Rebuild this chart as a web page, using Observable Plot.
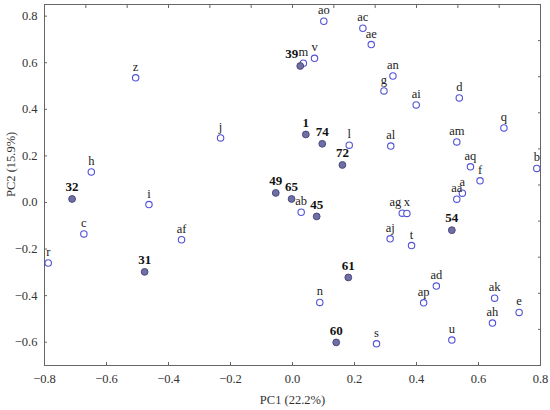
<!DOCTYPE html>
<html>
<head>
<meta charset="utf-8">
<script src="https://cdn.jsdelivr.net/npm/d3@7"></script>
<script src="https://cdn.jsdelivr.net/npm/@observablehq/plot@0.6"></script>
<style>
  html, body { margin: 0; padding: 0; background: #fff; }
  #chart { width: 550px; height: 410px; }
</style>
</head>
<body>
<div id="chart"></div>
<script>
// Point names (numbers = samples, letters = variables)
const names = ["a","aa","ab","ac","ad","ae","af","ag","ah","ai","aj","ak","al","am","an","ao","ap","aq",
  "b","c","d","e","f","g","h","i","j","l","m","n","q","r","s","t","u","v","x","z",
  "1","31","32","39","45","49","54","60","61","65","72","74"];
const pc1 = [0.548,0.530,0.028,0.227,0.464,0.254,-0.358,0.354,0.645,0.399,0.315,0.652,0.317,0.530,0.324,0.101,0.423,0.574,
  0.788,-0.673,0.538,0.731,0.605,0.295,-0.649,-0.463,-0.232,0.183,0.035,0.088,0.682,-0.788,0.271,0.384,0.514,0.071,0.369,-0.506,
  0.043,-0.477,-0.711,0.025,0.078,-0.054,0.514,0.141,0.180,-0.003,0.161,0.096];
const pc2 = [0.040,0.014,-0.042,0.748,-0.359,0.678,-0.160,-0.046,-0.518,0.419,-0.156,-0.411,0.242,0.260,0.543,0.778,-0.431,0.153,
  0.146,-0.135,0.449,-0.472,0.093,0.479,0.131,-0.009,0.277,0.246,0.598,-0.429,0.320,-0.260,-0.607,-0.185,-0.591,0.619,-0.047,0.535,
  0.292,-0.298,0.015,0.586,-0.060,0.041,-0.119,-0.601,-0.322,0.015,0.161,0.252];

const xTicks = [-0.8,-0.6,-0.4,-0.2,0.0,0.2,0.4,0.6,0.8];
const yTicks = [-0.6,-0.4,-0.2,0.0,0.2,0.4,0.6,0.8];
const xDomain = [-0.8, 0.8];
const yDomain = [-0.7, 0.85];
const xTitle = "PC1 (22.2%)";
const yTitle = "PC2 (15.9%)";

// secondary (top/right) tick marks divide the range evenly
const topTicks = d3.range(1, 12).map(k => xDomain[0] + k * (xDomain[1] - xDomain[0]) / 12);
const rightTicks = d3.range(1, 10).map(k => yDomain[0] + k * (yDomain[1] - yDomain[0]) / 10);

const pts = names.map((n, i) => ({name: n, x: pc1[i], y: pc2[i], sample: /^\d+$/.test(n)}));
const letters = pts.filter(d => !d.sample);
const samples = pts.filter(d => d.sample);
const endAnchored = new Set(["39", "ag"]);

const font = "'Palatino Linotype', 'Book Antiqua', Palatino, 'Liberation Serif', serif";

const chart = Plot.plot({
  width: 550,
  height: 410,
  marginLeft: 44,
  marginRight: 10,
  marginTop: 4,
  marginBottom: 45,
  style: {fontFamily: font, fontSize: "12.5px", color: "#222", background: "#fff"},
  x: {domain: xDomain},
  y: {domain: yDomain},
  marks: [
    Plot.frame({stroke: "#666", strokeWidth: 1}),
    Plot.axisX(xTicks, {anchor: "bottom", tickSize: 0, tickPadding: 9, tickFormat: d3.format(".1f"), label: null, fontSize: 12.5, color: "#333"}),
    Plot.axisY(yTicks, {anchor: "left", tickSize: 0, tickPadding: 7, tickFormat: d3.format(".1f"), label: null, fontSize: 12.5, color: "#333"}),
    Plot.axisX(xTicks, {anchor: "bottom", tickSize: -3, tickFormat: () => "", label: null, stroke: "#666"}),
    Plot.axisY(yTicks, {anchor: "left", tickSize: -3, tickFormat: () => "", label: null, stroke: "#666"}),
    Plot.axisX(topTicks, {anchor: "top", tickSize: -3, tickFormat: () => "", label: null, stroke: "#666"}),
    Plot.axisY(rightTicks, {anchor: "right", tickSize: -3, tickFormat: () => "", label: null, stroke: "#666"}),
    Plot.text([xTitle], {frameAnchor: "bottom", dy: 38, fontSize: 12.5, fill: "#333"}),
    Plot.text([yTitle], {frameAnchor: "left", dx: -34, dy: 12, rotate: -90, fontSize: 12.5, fill: "#333"}),
    Plot.dot(letters, {x: "x", y: "y", r: 3.2, stroke: "#5252d8", fill: "#fff", strokeWidth: 1.1}),
    Plot.dot(samples, {x: "x", y: "y", r: 3.4, fill: "#6f6fa6", stroke: "#4a4a7c", strokeWidth: 1}),
    Plot.text(letters.filter(d => !endAnchored.has(d.name)), {x: "x", y: "y", text: "name", dy: -11, fill: "#222", fontSize: 12.5}),
    Plot.text(letters.filter(d => endAnchored.has(d.name)), {x: "x", y: "y", text: "name", dy: -11, dx: -1, fill: "#222", fontSize: 12.5, textAnchor: "end"}),
    Plot.text(samples.filter(d => !endAnchored.has(d.name)), {x: "x", y: "y", text: "name", dy: -12, fill: "#111", fontSize: 13, fontWeight: "bold"}),
    Plot.text(samples.filter(d => endAnchored.has(d.name)), {x: "x", y: "y", text: "name", dy: -12, dx: -2, fill: "#111", fontSize: 13, fontWeight: "bold", textAnchor: "end"})
  ]
});
document.getElementById("chart").appendChild(chart);
</script>
</body>
</html>
